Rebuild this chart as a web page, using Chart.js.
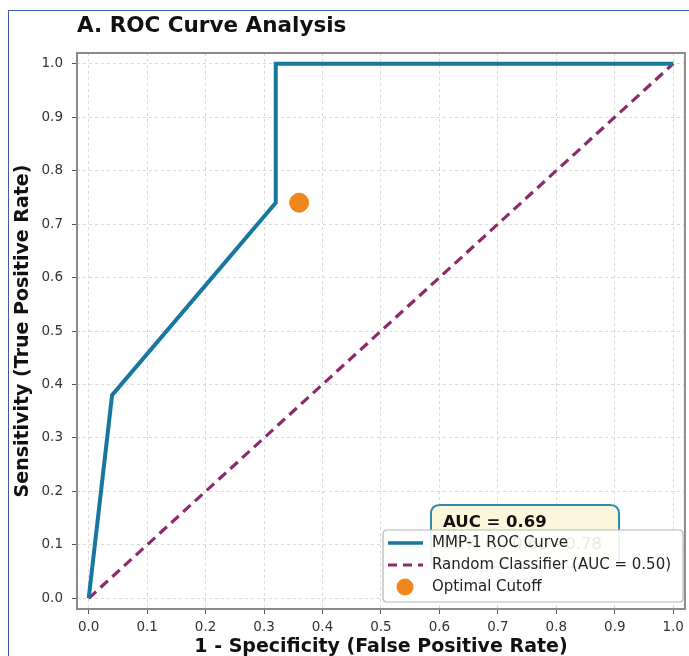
<!DOCTYPE html>
<html lang="en">
<head>
    <meta charset="UTF-8">
    <title>ROC Curve Analysis</title>
    <script src="https://cdn.jsdelivr.net/npm/chart.js"></script>
    <style>
        body {
            margin: 0;
            background: #ffffff;
            font-family: "DejaVu Sans", sans-serif;
        }
        .frame {
            position: absolute;
            left: 8px;
            top: 10px;
            width: 700px;
            height: 700px;
            border-left: 1.5px solid #3b5cb5;
            border-top: 1.5px solid #3b5cb5;
        }
        .wrap {
            position: absolute;
            left: 0;
            top: 0;
            width: 689px;
            height: 656px;
        }
    </style>
</head>
<body>
    <div class="frame"></div>
    <div class="wrap"><canvas id="rocChart"></canvas></div>

    <script>
        // ROC curve for MMP-1
        const rocFpr = [0, 0.04, 0.32, 0.32, 1.0];
        const rocTpr = [0, 0.38, 0.74, 1.0, 1.0];
        // chance line
        const randomFpr = [0, 1];
        const randomTpr = [0, 1];
        // optimal cutoff marker
        const cutoffFpr = [0.36];
        const cutoffTpr = [0.74];

        const tickValues = [0, 0.1, 0.2, 0.3, 0.4, 0.5, 0.6, 0.7, 0.8, 0.9, 1.0];
        const tickLabels = ['0.0', '0.1', '0.2', '0.3', '0.4', '0.5', '0.6', '0.7', '0.8', '0.9', '1.0'];

        const legendLabels = ['MMP-1 ROC Curve', 'Random Classifier (AUC = 0.50)', 'Optimal Cutoff'];
        const aucText = ['AUC = 0.69', '95% CI: 0.60 - 0.78'];

        const rocColor = '#17789f';
        const randomColor = '#8b2a6c';
        const cutoffColor = '#f0861e';

        function toPoints(xs, ys) {
            return xs.map((x, i) => ({ x: x, y: ys[i] }));
        }

        function setTicks(scale) {
            scale.ticks = tickValues.map(v => ({ value: v }));
        }

        function roundRect(ctx, x, y, w, h, r) {
            ctx.beginPath();
            ctx.moveTo(x + r, y);
            ctx.lineTo(x + w - r, y);
            ctx.quadraticCurveTo(x + w, y, x + w, y + r);
            ctx.lineTo(x + w, y + h - r);
            ctx.quadraticCurveTo(x + w, y + h, x + w - r, y + h);
            ctx.lineTo(x + r, y + h);
            ctx.quadraticCurveTo(x, y + h, x, y + h - r);
            ctx.lineTo(x, y + r);
            ctx.quadraticCurveTo(x, y, x + r, y);
            ctx.closePath();
        }

        // title, plot frame, AUC box and legend
        const extras = {
            id: 'extras',
            afterDraw(chart) {
                const ctx = chart.ctx;
                const a = chart.chartArea;
                ctx.save();

                // title
                ctx.fillStyle = '#111';
                ctx.font = 'bold 21.5px "DejaVu Sans"';
                ctx.textAlign = 'left';
                ctx.textBaseline = 'middle';
                ctx.fillText('A. ROC Curve Analysis', 77, 26);

                // frame around plot
                ctx.strokeStyle = '#8a8a8a';
                ctx.lineWidth = 2;
                ctx.strokeRect(a.left, a.top, a.right - a.left, a.bottom - a.top);

                // AUC box
                roundRect(ctx, 431, 505, 188, 62, 9);
                ctx.fillStyle = '#fcf7dc';
                ctx.fill();
                ctx.strokeStyle = '#2d8cab';
                ctx.lineWidth = 2;
                ctx.stroke();
                ctx.fillStyle = '#111';
                ctx.font = 'bold 16.5px "DejaVu Sans"';
                ctx.fillText(aucText[0], 443, 523);
                ctx.font = '16.5px "DejaVu Sans"';
                ctx.fillText(aucText[1], 443, 545);

                // legend
                roundRect(ctx, 383, 530, 300, 72, 4);
                ctx.fillStyle = 'rgba(255,255,255,0.9)';
                ctx.fill();
                ctx.strokeStyle = '#b5b5b5';
                ctx.lineWidth = 1.2;
                ctx.stroke();

                const rows = [543, 565, 587];
                ctx.lineWidth = 3.5;
                ctx.strokeStyle = rocColor;
                ctx.beginPath();
                ctx.moveTo(388, rows[0]);
                ctx.lineTo(423, rows[0]);
                ctx.stroke();

                ctx.lineWidth = 3;
                ctx.strokeStyle = randomColor;
                ctx.setLineDash([9, 6]);
                ctx.beginPath();
                ctx.moveTo(388, rows[1]);
                ctx.lineTo(423, rows[1]);
                ctx.stroke();
                ctx.setLineDash([]);

                ctx.fillStyle = cutoffColor;
                ctx.beginPath();
                ctx.arc(405, rows[2], 8.5, 0, Math.PI * 2);
                ctx.fill();

                ctx.fillStyle = '#222';
                ctx.font = '15px "DejaVu Sans"';
                legendLabels.forEach((t, i) => ctx.fillText(t, 432, rows[i]));

                ctx.restore();
            }
        };

        const ctx = document.getElementById('rocChart').getContext('2d');
        new Chart(ctx, {
            type: 'line',
            data: {
                datasets: [
                    {
                        label: legendLabels[0],
                        data: toPoints(rocFpr, rocTpr),
                        borderColor: rocColor,
                        borderWidth: 4,
                        pointRadius: 0,
                        tension: 0,
                        fill: false
                    },
                    {
                        label: legendLabels[1],
                        data: toPoints(randomFpr, randomTpr),
                        borderColor: randomColor,
                        borderWidth: 3.2,
                        borderDash: [10, 6],
                        pointRadius: 0,
                        tension: 0,
                        fill: false
                    },
                    {
                        label: legendLabels[2],
                        data: toPoints(cutoffFpr, cutoffTpr),
                        showLine: false,
                        pointRadius: 9.5,
                        pointBackgroundColor: cutoffColor,
                        pointBorderColor: cutoffColor
                    }
                ]
            },
            options: {
                responsive: true,
                maintainAspectRatio: false,
                animation: false,
                layout: {
                    autoPadding: false,
                    padding: { left: 10, top: 53, right: 2, bottom: 0 }
                },
                plugins: {
                    legend: { display: false },
                    tooltip: { enabled: false }
                },
                scales: {
                    x: {
                        type: 'linear',
                        min: -0.02,
                        max: 1.02,
                        afterBuildTicks: setTicks,
                        afterFit(scale) { scale.height = 47; },
                        ticks: {
                            autoSkip: false,
                            maxRotation: 0,
                            padding: 5,
                            color: '#333',
                            font: { family: 'DejaVu Sans', size: 13.5 },
                            callback: (v, i) => tickLabels[i]
                        },
                        grid: {
                            color: '#d9d9d9',
                            lineWidth: 1,
                            tickColor: '#555',
                            tickLength: 5
                        },
                        border: { display: false, dash: [3, 3] },
                        title: {
                            display: true,
                            text: '1 - Specificity (False Positive Rate)',
                            color: '#111',
                            font: { family: 'DejaVu Sans', size: 19, weight: 'bold' },
                            padding: { top: 0, bottom: -2 }
                        }
                    },
                    y: {
                        type: 'linear',
                        min: -0.02,
                        max: 1.02,
                        afterBuildTicks: setTicks,
                        afterFit(scale) { scale.width = 67; },
                        ticks: {
                            autoSkip: false,
                            padding: 9,
                            color: '#333',
                            font: { family: 'DejaVu Sans', size: 13.5 },
                            callback: (v, i) => tickLabels[i]
                        },
                        grid: {
                            color: '#d9d9d9',
                            lineWidth: 1,
                            tickColor: '#555',
                            tickLength: 5
                        },
                        border: { display: false, dash: [3, 3] },
                        title: {
                            display: true,
                            text: 'Sensitivity (True Positive Rate)',
                            color: '#111',
                            font: { family: 'DejaVu Sans', size: 19, weight: 'bold' },
                            padding: { top: 2, bottom: 0 }
                        }
                    }
                }
            },
            plugins: [extras]
        });
    </script>
</body>
</html>
